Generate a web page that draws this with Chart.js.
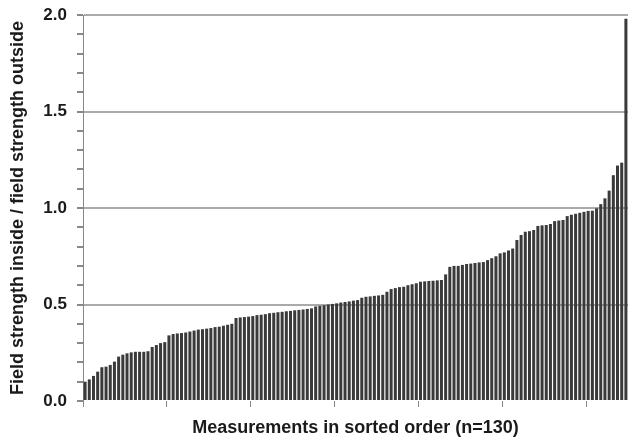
<!DOCTYPE html>
<html>
<head>
<meta charset="utf-8">
<script src="https://cdn.jsdelivr.net/npm/chart.js@4.4.1/dist/chart.umd.min.js"></script>
<style>
  html, body { margin: 0; padding: 0; background: #fff; }
  #wrap { width: 632px; height: 442px; }
</style>
</head>
<body>
<div id="wrap"><canvas id="chart"></canvas></div>
<script>
// field strength ratio per measurement, sorted ascending (n=130)
const ratios = [
  0.10, 0.112, 0.13, 0.152, 0.175, 0.178, 0.187, 0.204, 0.23, 0.24,
  0.247, 0.252, 0.255, 0.255, 0.255, 0.258, 0.28, 0.29, 0.30, 0.305,
  0.34, 0.347, 0.35, 0.352, 0.355, 0.36, 0.365, 0.37, 0.372, 0.375,
  0.378, 0.383, 0.385, 0.39, 0.395, 0.40, 0.43, 0.433, 0.435, 0.437,
  0.44, 0.445, 0.447, 0.45, 0.455, 0.457, 0.46, 0.462, 0.465, 0.467,
  0.47, 0.472, 0.474, 0.477, 0.48, 0.49, 0.493, 0.496, 0.50, 0.503,
  0.506, 0.51, 0.513, 0.516, 0.52, 0.523, 0.535, 0.54, 0.542, 0.545,
  0.547, 0.55, 0.566, 0.58, 0.585, 0.59, 0.592, 0.60, 0.605, 0.61,
  0.618, 0.62, 0.622, 0.623, 0.625, 0.627, 0.656, 0.695, 0.70, 0.70,
  0.705, 0.71, 0.712, 0.715, 0.718, 0.72, 0.73, 0.74, 0.75, 0.765,
  0.77, 0.78, 0.79, 0.834, 0.86, 0.877, 0.88, 0.886, 0.907, 0.91,
  0.912, 0.917, 0.932, 0.935, 0.938, 0.958, 0.965, 0.97, 0.975, 0.98,
  0.985, 0.986, 0.998, 1.02, 1.05, 1.09, 1.17, 1.22, 1.235, 1.98
];
const measurementNo = ratios.map((_, i) => String(i + 1));
const yTickLabels = ["0.0", "0.5", "1.0", "1.5", "2.0"];

const FONT = "'Liberation Sans', Arial, Helvetica, sans-serif";

// every 0.5 gets a label + gridline, every 0.1 just a tick mark
function isMajor(v) {
  return Math.round(v * 10) % 5 === 0;
}

new Chart(document.getElementById("chart"), {
  type: "bar",
  data: {
    labels: measurementNo,
    datasets: [
      {
        data: ratios,
        backgroundColor: "#3a3a3a",
        borderWidth: 0,
        barPercentage: 0.72,
        categoryPercentage: 1.0,
      },
    ],
  },
  options: {
    responsive: true,
    maintainAspectRatio: false,
    animation: false,
    layout: { padding: { top: 15, right: 4, bottom: 0, left: 0 } },
    plugins: {
      legend: { display: false },
      tooltip: { enabled: false },
    },
    scales: {
      x: {
        type: "category",
        offset: true,
        border: { display: false },
        grid: {
          offset: true,
          drawOnChartArea: false,
          tickLength: 6,
          lineWidth: 1,
          color: (ctx) => (ctx.index % 20 === 0 ? "#888" : "transparent"),
        },
        ticks: { display: false, autoSkip: false },
        title: {
          display: true,
          text: "Measurements in sorted order (n=130)",
          color: "#1a1a1a",
          font: { family: FONT, size: 18, weight: "bold" },
          padding: { top: 3, bottom: 3 },
        },
        afterFit: (scale) => { scale.height = 41; },
      },
      y: {
        min: 0,
        max: 2,
        border: { color: "#888", width: 1 },
        grid: {
          tickLength: 6,
          lineWidth: 2,
          color: (ctx) => (ctx.tick && ctx.tick.value > 0 && isMajor(ctx.tick.value) ? "#aaa" : "transparent"),
          tickColor: "#888",
        },
        ticks: {
          stepSize: 0.1,
          maxTicksLimit: 30,
          autoSkip: false,
          padding: 10,
          color: "#1a1a1a",
          font: { family: FONT, size: 17, weight: "bold" },
          callback: (v) => {
            const k = Math.round(v * 10);
            return k % 5 === 0 ? yTickLabels[k / 5] : "";
          },
        },
        title: {
          display: true,
          text: "Field strength inside / field strength outside",
          color: "#1a1a1a",
          font: { family: FONT, size: 18, weight: "bold" },
          padding: { top: 7, bottom: 0 },
        },
        afterFit: (scale) => {
          scale.width = 83;
          scale.paddingTop = 0;
          scale.paddingBottom = 0;
        },
      },
    },
  },
});
</script>
</body>
</html>
